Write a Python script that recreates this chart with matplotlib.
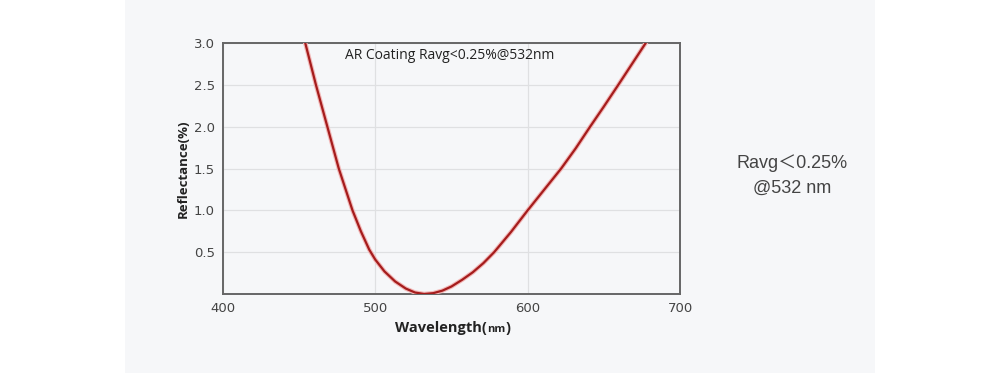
import matplotlib
matplotlib.use('Agg')
import matplotlib.pyplot as plt
from matplotlib.patches import Rectangle
from matplotlib.offsetbox import TextArea, HPacker, AnnotationBbox

# reflectance curve
wavelength = [450, 454, 461, 468.5, 476, 485, 490.5, 496, 500, 506, 513, 520, 526, 532,
              538, 544, 550, 557, 564, 571, 578, 589, 600, 611, 622, 631.5, 641,
              650, 659.5, 668.5, 677.5, 685]
reflectance = [3.29, 3.0, 2.5, 2.0, 1.5, 1.0, 0.75, 0.53, 0.41, 0.27, 0.15, 0.065, 0.018, 0.0,
               0.01, 0.04, 0.09, 0.17, 0.26, 0.37, 0.5, 0.74, 1.0, 1.25, 1.5, 1.74, 2.0,
               2.24, 2.5, 2.75, 3.0, 3.2]

x_ticks = [400, 500, 600, 700]
y_ticks = [0.5, 1.0, 1.5, 2.0, 2.5, 3.0]

title_text = 'AR Coating Ravg<0.25%@532nm'
side_lines = ['Ravg\uff1c0.25%', '@532 nm']

panel_color = '#f6f7f9'
spine_color = '#666666'

fig = plt.figure(figsize=(10, 3.73), dpi=100)
fig.patch.set_facecolor('white')
fig.patches.append(Rectangle((0.125, 0), 0.75, 1, transform=fig.transFigure,
                             facecolor=panel_color, edgecolor='none', zorder=-10))

ax = fig.add_axes([0.223, 0.2118, 0.457, 0.6729])
ax.set_facecolor(panel_color)

ax.plot(wavelength, reflectance, color='#f2b8b8', linewidth=3.2, zorder=3,
        solid_joinstyle='round')
ax.plot(wavelength, reflectance, color='#a51c1c', linewidth=1.6, zorder=4,
        solid_joinstyle='round')

ax.set_xlim(400, 700)
ax.set_ylim(0, 3.0)
ax.set_xticks(x_ticks)
ax.set_yticks(y_ticks)
ax.set_yticklabels([f'{v:.1f}' for v in y_ticks])
ax.tick_params(length=0, labelsize=9.5, labelcolor='#444444')
ax.tick_params(axis='y', pad=6)
ax.tick_params(axis='x', pad=6)
ax.grid(True, color='#dfe0e2', linewidth=0.9)
ax.set_axisbelow(True)
for s in ax.spines.values():
    s.set_color(spine_color)
    s.set_linewidth(1.4)

ax.set_ylabel('Reflectance(%)', fontsize=9.5, fontweight='bold', color='#222222',
              family='Open Sans', labelpad=3)

# x label with a smaller "nm"
parts = [TextArea('Wavelength(', textprops=dict(fontsize=10.5, fontweight='bold', color='#222222', family='Open Sans')),
         TextArea('nm', textprops=dict(fontsize=8, fontweight='bold', color='#222222', family='Open Sans')),
         TextArea(')', textprops=dict(fontsize=10.5, fontweight='bold', color='#222222', family='Open Sans'))]
xl = HPacker(children=parts, align='baseline', pad=0, sep=0)
ab = AnnotationBbox(xl, (0.503, -0.135), xycoords='axes fraction', frameon=False,
                    box_alignment=(0.5, 0.5))
ax.add_artist(ab)

ax.text(0.496, 0.952, title_text, transform=ax.transAxes, ha='center', va='center',
        fontsize=10, color='#222222', family='Open Sans')

fig.text(0.792, 0.563, side_lines[0], ha='center', va='center', fontsize=13,
         color='#444444', family=['Liberation Sans', 'Noto Sans CJK SC'])
fig.text(0.792, 0.496, side_lines[1], ha='center', va='center', fontsize=13,
         color='#444444', family=['Liberation Sans', 'Noto Sans CJK SC'])

fig.savefig('out.png', dpi=100, facecolor=fig.get_facecolor())
